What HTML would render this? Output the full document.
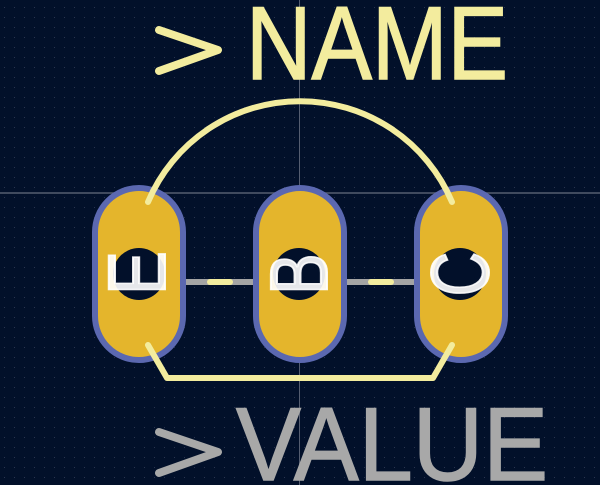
<!DOCTYPE html>
<html><head><style>
html,body{margin:0;padding:0;background:#02102a;}
svg{display:block}
</style></head><body>
<svg width="600" height="485" viewBox="0 0 600 485" xmlns="http://www.w3.org/2000/svg">
<defs>
<pattern id="g" width="10" height="10" patternUnits="userSpaceOnUse" x="0" y="3">
<rect x="4" y="4" width="1" height="1" fill="#2a3550"/>
</pattern>
</defs>
<rect width="600" height="485" fill="#02102a"/>
<rect width="600" height="485" fill="url(#g)"/>
<line x1="0" y1="193" x2="600" y2="193" stroke="#555d70" stroke-width="1.5"/>
<line x1="299.5" y1="0" x2="299.5" y2="485" stroke="#555d70" stroke-width="1"/>

<rect x="182" y="279" width="78" height="6" fill="#a4a4a4"/>
<rect x="342" y="279" width="78" height="6" fill="#a4a4a4"/>
<rect x="180" y="279" width="6" height="6" fill="#c08cd0"/>
<rect x="256" y="279" width="6" height="6" fill="#c08cd0"/>
<rect x="340" y="279" width="6" height="6" fill="#c08cd0"/>
<rect x="416" y="279" width="6" height="6" fill="#c08cd0"/>
<line x1="210" y1="282" x2="230" y2="282" stroke="#f3ec9e" stroke-width="6" stroke-linecap="round"/>
<line x1="371" y1="282" x2="391" y2="282" stroke="#f3ec9e" stroke-width="6" stroke-linecap="round"/>

<g fill="#e4b52c" stroke="#5b68b0" stroke-width="6">
<rect x="95" y="188" width="88" height="172" rx="44"/>
<rect x="256" y="188" width="88" height="172" rx="44"/>
<rect x="417" y="188" width="88" height="172" rx="44"/>
</g>
<g fill="#02102a">
<circle cx="139" cy="274" r="26"/>
<circle cx="299" cy="274" r="26"/>
<circle cx="460" cy="274" r="26"/>
</g>
<g font-family="Liberation Sans, sans-serif" font-size="82" fill="#ffffff" fill-opacity="0.9" stroke="#ffffff" stroke-opacity="0.9" stroke-width="2" text-anchor="middle">
<text transform="translate(165,273) rotate(-90) scale(0.8,1)">E</text>
<text transform="translate(327,274) rotate(-90) scale(0.75,1)">B</text>
<text transform="translate(488,274) rotate(-90) scale(0.75,1)">C</text>
</g>

<g fill="none" stroke="#f3ec9e" stroke-width="6" stroke-linecap="round" stroke-linejoin="round">
<path d="M148 202 A165 165 0 0 1 452 202"/>
<path d="M148 345 L167 378 L433 378 L452 345"/>
</g>

<g fill="none" stroke-width="8" stroke-linecap="round" stroke-linejoin="round">
<path d="M159 30 L218 50 L159 71" stroke="#f3ec9e"/>
<path d="M159 432 L218 452 L159 473" stroke="#a8a8a8"/>
</g>
<text x="246" y="79" font-family="Liberation Sans, sans-serif" font-size="104" fill="#f3ec9e" stroke="#f3ec9e" stroke-width="1.5" textLength="262" lengthAdjust="spacingAndGlyphs">NAME</text>
<text x="236" y="480" font-family="Liberation Sans, sans-serif" font-size="104" fill="#a8a8a8" stroke="#a8a8a8" stroke-width="1.5" textLength="312" lengthAdjust="spacingAndGlyphs">VALUE</text>
</svg>
</body></html>
